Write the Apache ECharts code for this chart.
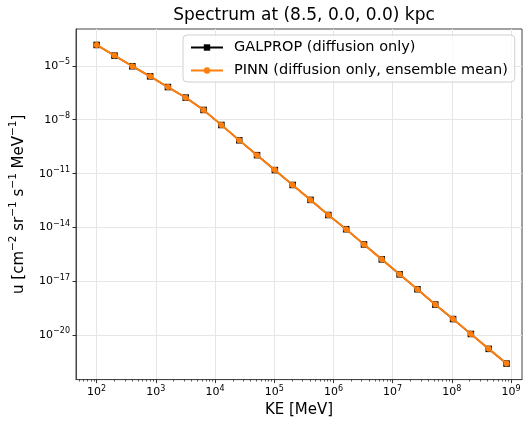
<!DOCTYPE html>
<html><head><meta charset="utf-8">
<script src="https://cdn.jsdelivr.net/npm/echarts@6/dist/echarts.min.js"></script>
<style>html,body{margin:0;padding:0;background:#fff}#c{width:525px;height:423px}</style>
</head><body><div id="c"></div>
<script>
// ---- data ----
const titleText = 'Spectrum at (8.5, 0.0, 0.0) kpc';
const seriesNames = ['GALPROP (diffusion only)', 'PINN (diffusion only, ensemble mean)'];
const energyMeV = [100, 200, 400, 800, 1600, 3200, 6400, 12800, 25600, 51200,
  102400, 204800, 409600, 819200, 1638400, 3276800, 6553600, 13107200,
  26214400, 52428800, 104857600, 209715200, 419430400, 838860800];
const galpropU = [1.45e-4, 3.7e-5, 9.5e-6, 2.6e-6, 6.6e-7, 1.7e-7, 3.5e-8, 5.1e-9,
  7.2e-10, 1.07e-10, 1.58e-11, 2.34e-12, 3.47e-13, 5.0e-14, 8.1e-15, 1.15e-15,
  1.7e-16, 2.5e-17, 3.7e-18, 5.2e-19, 8.1e-20, 1.2e-20, 1.78e-21, 2.7e-22];
const pinnU = [1.45e-4, 3.7e-5, 9.5e-6, 2.6e-6, 6.6e-7, 1.7e-7, 3.5e-8, 5.1e-9,
  7.2e-10, 1.07e-10, 1.58e-11, 2.34e-12, 3.47e-13, 5.0e-14, 8.1e-15, 1.15e-15,
  1.7e-16, 2.5e-17, 3.7e-18, 5.2e-19, 8.1e-20, 1.2e-20, 1.78e-21, 2.7e-22];
const xTicks = [1e2, 1e3, 1e4, 1e5, 1e6, 1e7, 1e8, 1e9];
const yTicks = [1e-5, 1e-8, 1e-11, 1e-14, 1e-17, 1e-20];
const xLabel = 'KE [MeV]';

// ---- layout / style ----
const FONT = 'DejaVu Sans';
const xMin = 44.8, xMax = 1.53e9, yMin = 3.47e-23, yMax = 1.12e-3;
const xMinor = [];
for (let d = 1; d <= 9; d++) for (let m = 2; m <= 9; m++) {
  const v = m * Math.pow(10, d);
  if (v >= xMin && v <= xMax) xMinor.push(v);
}
function powLabel(v) {
  const e = Math.round(Math.log10(v));
  return '{b|10}{s|' + (e < 0 ? '\u2212' : '') + Math.abs(e) + '}';
}
const tickRich = {
  b: { fontFamily: FONT, fontSize: 11, color: '#000' },
  s: { fontFamily: FONT, fontSize: 8, color: '#000', padding: [0, 0, 8, 0] }
};
const nameRich = {
  a: { fontFamily: FONT, fontSize: 15, color: '#000' },
  s: { fontFamily: FONT, fontSize: 10.5, color: '#000', padding: [0, 0, 11, 0] }
};
const pairs = (xs, ys) => xs.map((x, i) => [x, ys[i]]);
const frameColor = '#444';
const gridLine = { show: true, lineStyle: { color: '#e6e6e6', width: 1 } };

const chart = echarts.init(document.getElementById('c'), null, { renderer: 'canvas' });
chart.setOption({
  animation: false,
  backgroundColor: '#fff',
  title: {
    text: titleText, left: 299, top: 2, textAlign: 'center',
    textStyle: { fontFamily: FONT, fontSize: 17, fontWeight: 'normal', color: '#000' }
  },
  grid: { left: 75, right: 3, top: 29, bottom: 41, show: true, borderColor: frameColor, borderWidth: 1 },
  legend: {
    orient: 'vertical', left: 183, top: 35,
    itemWidth: 32, itemHeight: 8, itemGap: 8,
    padding: [5, 7, 4, 7],
    backgroundColor: 'rgba(255,255,255,0.8)', borderColor: '#d0d0d0', borderWidth: 1, borderRadius: 4,
    textStyle: { fontFamily: FONT, fontSize: 14.5, color: '#000', padding: [0, 0, 0, 6] },
    data: seriesNames
  },
  xAxis: [{
    type: 'log', min: xMin, max: xMax, position: 'bottom',
    name: xLabel, nameLocation: 'middle', nameGap: 19,
    nameTextStyle: { fontFamily: FONT, fontSize: 15, color: '#000' },
    axisLine: { show: true, lineStyle: { color: frameColor, width: 1 } },
    axisTick: { show: true, inside: false, length: 3.5, customValues: xTicks, lineStyle: { color: '#000', width: 0.8 } },
    axisLabel: { customValues: xTicks, margin: 5, formatter: powLabel, rich: tickRich },
    splitLine: gridLine,
    minorTick: { show: false }
  }, {
    type: 'log', min: xMin, max: xMax, position: 'bottom', gridIndex: 0,
    axisLine: { show: false },
    axisTick: { show: true, inside: false, length: 2, customValues: xMinor, lineStyle: { color: '#000', width: 0.6 } },
    axisLabel: { show: false },
    splitLine: { show: false }
  }],
  yAxis: {
    type: 'log', min: yMin, max: yMax,
    name: '{a|u [cm}{s|\u22122}{a| sr}{s|\u22121}{a| s}{s|\u22121}{a| MeV}{s|\u22121}{a|]}',
    nameLocation: 'middle', nameGap: 46, nameRotate: 90,
    nameTextStyle: { rich: nameRich },
    axisLine: { show: true, lineStyle: { color: frameColor, width: 1 } },
    axisTick: { show: true, inside: false, length: 3.5, customValues: yTicks, lineStyle: { color: '#000', width: 0.8 } },
    axisLabel: { customValues: yTicks, margin: 6, formatter: powLabel, rich: tickRich },
    splitLine: gridLine,
    minorTick: { show: false }
  },
  series: [{
    name: seriesNames[0], type: 'line', xAxisIndex: 0, data: pairs(energyMeV, galpropU),
    symbol: 'rect', symbolSize: 6.5, z: 2,
    itemStyle: { color: '#000' }, lineStyle: { color: '#000', width: 1.5 }
  }, {
    name: seriesNames[1], type: 'line', xAxisIndex: 0, data: pairs(energyMeV, pinnU),
    symbol: 'circle', symbolSize: 6, z: 3,
    itemStyle: { color: '#ff7f0e' }, lineStyle: { color: '#ff7f0e', width: 2 }
  }]
});
</script></body></html>
